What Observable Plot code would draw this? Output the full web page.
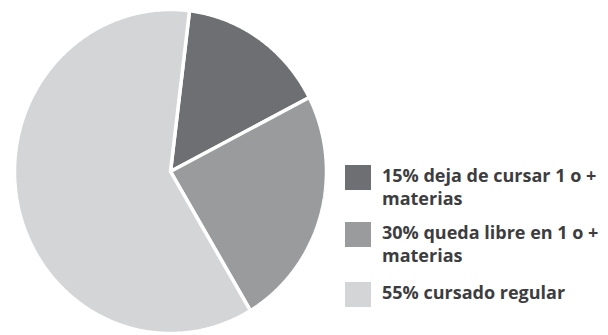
<!DOCTYPE html>
<html>
<head>
<meta charset="utf-8">
<script src="https://cdn.jsdelivr.net/npm/d3@7"></script>
<script src="https://cdn.jsdelivr.net/npm/@observablehq/plot@0.6"></script>
<style>
  html, body { margin: 0; padding: 0; background: #fff; }
  #wrap { position: relative; width: 608px; height: 335px; overflow: hidden; }
  #legend { position: absolute; left: 345px; top: 0; font-family: "Open Sans", sans-serif; font-weight: 700; font-size: 18px; color: #3d3d3f; }
  .item { position: absolute; left: 0; white-space: nowrap; }
  .sw { position: absolute; left: 0; width: 26px; height: 25px; }
  .txt { position: absolute; left: 37px; line-height: 23px; }
</style>
</head>
<body>
<div id="wrap"><div id="legend"></div></div>
<script>
// Categories (legend labels) and drawn shares
const labels = ["15% deja de cursar 1 o + materias", "30% queda libre en 1 o + materias", "55% cursado regular"];
const legendLines = [["15% deja de cursar 1 o +", "materias"], ["30% queda libre en 1 o +", "materias"], ["55% cursado regular"]];
const shares = [15.5, 24.0, 60.5];
const colors = ["#6e6f73", "#9a9b9d", "#d4d5d7"];
const startAngleDeg = 7;

// Build slice polygons from the shares
const total = d3.sum(shares);
const pts = [];
let a = startAngleDeg;
shares.forEach((s, i) => {
  const span = s / total * 360;
  const a0 = a, a1 = a + span;
  pts.push({label: labels[i], x: 0, y: 0});
  const n = Math.max(2, Math.ceil(span * 2));
  for (let k = 0; k <= n; k++) {
    const t = (a0 + (a1 - a0) * k / n) * Math.PI / 180;
    pts.push({label: labels[i], x: Math.sin(t), y: Math.cos(t)});
  }
  a = a1;
});

const W = 608, H = 335, cx = 170, cy = 171, RX = 156, RY = 162;
const chart = Plot.plot({
  width: W, height: H,
  margin: 0,
  x: {domain: [-cx / RX, (W - cx) / RX], axis: null},
  y: {domain: [-(H - cy) / RY, cy / RY], axis: null},
  color: {domain: labels, range: colors},
  marks: [
    Plot.line(pts, {x: "x", y: "y", z: "label", fill: "label", stroke: "white", strokeWidth: 3.5, strokeLinejoin: "miter", curve: "linear-closed"})
  ]
});
document.getElementById("wrap").prepend(chart);

const tops = [165, 222, 282];
const legend = document.getElementById("legend");
legendLines.forEach((lines, i) => {
  const it = document.createElement("div");
  it.className = "item";
  it.style.top = tops[i] + "px";
  const sw = document.createElement("div");
  sw.className = "sw";
  sw.style.background = colors[i];
  const tx = document.createElement("div");
  tx.className = "txt";
  tx.style.top = "-1px";
  tx.innerHTML = lines.join("<br>");
  it.appendChild(sw); it.appendChild(tx);
  legend.appendChild(it);
});
</script>
</body>
</html>
